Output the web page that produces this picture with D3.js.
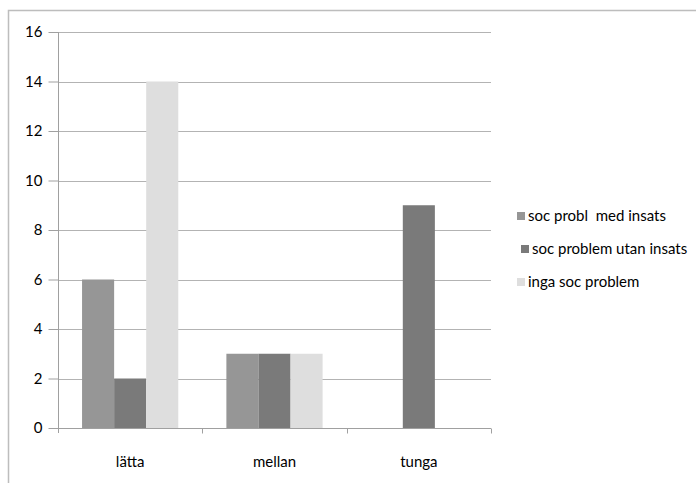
<!DOCTYPE html>
<html><head><meta charset="utf-8">
<script src="https://cdn.jsdelivr.net/npm/d3@7"></script>
<style>
html,body{margin:0;padding:0;background:#fff;}
svg{display:block;}
text{font-family:Lato, "Open Sans", sans-serif;fill:#000;}
</style></head>
<body>
<svg id="c" width="696" height="483"></svg>
<script>
const categories = ["lätta", "mellan", "tunga"];
const seriesNames = ["soc probl  med insats", "soc problem utan insats", "inga soc problem"];
const medInsats = [6, 3, 0];
const utanInsats = [2, 3, 9];
const ingaProblem = [14, 3, 0];
const yTicks = [0, 2, 4, 6, 8, 10, 12, 14, 16];
const colors = ["#969696", "#7a7a7a", "#dedede"];

(function () {
const series = [medInsats, utanInsats, ingaProblem];
const svg = d3.select("#c");

// outer frame
svg.append("rect").attr("x", 8.5).attr("y", 10.5).attr("width", 700).attr("height", 500)
  .attr("fill", "none").attr("stroke", "#bdbdbd").attr("stroke-width", 1.5);

const pLeft = 58, pRight = 491, pTop = 32, pBottom = 428;
const x = d3.scaleBand().domain(categories).range([pLeft, pRight]).paddingInner(0).paddingOuter(0);
const inner = d3.scaleBand().domain(d3.range(series.length)).range([0, x.bandwidth()]).paddingOuter(0.75).paddingInner(0);
const y = d3.scaleLinear().domain([0, 16]).range([pBottom, pTop]);

// gridlines
svg.append("g").selectAll("line").data(yTicks.filter(t => t > 0)).join("line")
  .attr("x1", pLeft).attr("x2", pRight)
  .attr("y1", d => Math.round(y(d)) + 0.5).attr("y2", d => Math.round(y(d)) + 0.5)
  .attr("stroke", "#b3b3b3").attr("stroke-width", 1);

// bars
const groups = svg.append("g").selectAll("g").data(series).join("g")
  .attr("fill", (d, i) => colors[i]);
groups.selectAll("rect").data((d, i) => d.map((v, j) => ({v, j, i}))).join("rect")
  .attr("x", d => x(categories[d.j]) + inner(d.i))
  .attr("width", inner.bandwidth())
  .attr("y", d => y(d.v))
  .attr("height", d => y(0) - y(d.v));

// y axis
const yAxis = d3.axisLeft(y).tickValues(yTicks).tickSize(10).tickPadding(6).tickFormat(d3.format("d"));
const ya = svg.append("g").attr("transform", `translate(${pLeft + 0.5},0)`).call(yAxis);
ya.select(".domain").attr("stroke", "#a0a0a0").attr("d", `M0,${pTop}V${pBottom + 5}`);
ya.selectAll(".tick line").attr("stroke", "#a0a0a0");
ya.selectAll(".tick text").attr("font-size", 15).attr("font-family", "Lato, sans-serif").attr("fill", "#000");

// x axis
const xa = svg.append("g").attr("transform", `translate(0,${pBottom + 0.5})`);
xa.append("line").attr("x1", pLeft - 8).attr("x2", pRight).attr("stroke", "#a0a0a0");
xa.selectAll("line.t").data([...categories.map(c => x(c)).slice(1), pRight]).join("line")
  .attr("class", "t").attr("x1", d => Math.round(d) + 0.5).attr("x2", d => Math.round(d) + 0.5)
  .attr("y1", 0).attr("y2", 5).attr("stroke", "#a0a0a0");
xa.selectAll("text").data(categories).join("text")
  .attr("x", d => x(d) + x.bandwidth() / 2).attr("y", 38)
  .attr("text-anchor", "middle").attr("font-size", 15).text(d => d);

// legend
const legY = [216, 249, 282];
const legSqX = [517, 521, 517];
const legTxtX = [528, 532, 528];
const leg = svg.append("g").selectAll("g").data(seriesNames).join("g");
leg.append("rect").attr("x", (d, i) => legSqX[i]).attr("y", (d, i) => legY[i] - 4)
  .attr("width", 8).attr("height", 8).attr("fill", (d, i) => colors[i]);
leg.append("text").attr("x", (d, i) => legTxtX[i]).attr("y", (d, i) => legY[i] + 5)
  .attr("font-size", 15).style("white-space", "pre").text(d => d);
})();
</script>
</body></html>
